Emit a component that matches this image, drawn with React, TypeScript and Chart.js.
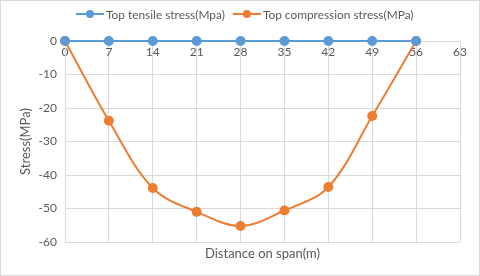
import React, { useEffect, useRef } from "react";
import { Chart, registerables } from "chart.js";

Chart.register(...registerables);

const distances = [0, 7, 14, 21, 28, 35, 42, 49, 56];
const tensileStress = [0, 0, 0, 0, 0, 0, 0, 0, 0];
const compressionStress = [0, -23.8, -43.9, -51, -55.2, -50.6, -43.6, -22.4, 0];
const seriesNames = ["Top tensile stress(Mpa)", "Top compression stress(MPa)"];
const seriesColors = ["#5B9BD5", "#ED7D31"];
const xAxisTitle = "Distance on span(m)";
const yAxisTitle = "Stress(MPa)";

const FONT = "Lato, 'Liberation Sans', sans-serif";
const TEXT = "#595959";
const GRID = "#D9D9D9";

const decorPlugin = {
  id: "decor",
  afterDraw(chart: any) {
    const ctx = chart.ctx as CanvasRenderingContext2D;
    const area = chart.chartArea;
    ctx.save();
    // border
    ctx.strokeStyle = GRID;
    ctx.lineWidth = 1;
    ctx.strokeRect(0.5, 0.5, chart.width - 1, chart.height - 1);
    // legend
    ctx.font = `12px ${FONT}`;
    const w0 = ctx.measureText(seriesNames[0]).width;
    const size = Math.max(10, Math.min(14, (12 * 119) / w0));
    ctx.font = `${size.toFixed(2)}px ${FONT}`;
    ctx.textBaseline = "middle";
    const markW = 28;
    const gapText = 2;
    const gapItem = 8;
    let x = 76;
    const y = 14;
    seriesNames.forEach((name, i) => {
      ctx.strokeStyle = seriesColors[i];
      ctx.lineWidth = 2;
      ctx.beginPath();
      ctx.moveTo(x, y);
      ctx.lineTo(x + markW, y);
      ctx.stroke();
      ctx.fillStyle = seriesColors[i];
      ctx.beginPath();
      ctx.arc(x + markW / 2, y, 4, 0, Math.PI * 2);
      ctx.fill();
      ctx.fillStyle = TEXT;
      ctx.textAlign = "left";
      ctx.fillText(name, x + markW + gapText, y + 1);
      x += markW + gapText + ctx.measureText(name).width + gapItem;
    });
    // x axis title
    ctx.font = `13px ${FONT}`;
    ctx.textAlign = "center";
    ctx.fillText(xAxisTitle, (area.left + area.right) / 2, 254);
    ctx.restore();
  },
};

export default function App() {
  const ref = useRef<HTMLCanvasElement | null>(null);
  useEffect(() => {
    document.body.style.margin = "0";
    const canvas = ref.current!;
    const chart = new Chart(canvas, {
      type: "line",
      data: {
        datasets: [
          {
            label: seriesNames[0],
            data: distances.map((d, i) => ({ x: d, y: tensileStress[i] })),
            borderColor: seriesColors[0],
            backgroundColor: seriesColors[0],
            borderWidth: 2,
            pointRadius: 4,
            pointHoverRadius: 4,
            tension: 0,
            clip: false,
          },
          {
            label: seriesNames[1],
            data: distances.map((d, i) => ({ x: d, y: compressionStress[i] })),
            borderColor: seriesColors[1],
            backgroundColor: seriesColors[1],
            borderWidth: 2,
            pointRadius: 4,
            pointHoverRadius: 4,
            tension: 0.35,
            clip: false,
          },
        ],
      },
      options: {
        responsive: false,
        animation: false,
        layout: { padding: { top: 41, bottom: 34, left: 0, right: 20 } },
        plugins: {
          legend: { display: false },
          tooltip: { enabled: false },
        },
        scales: {
          x: {
            type: "linear",
            position: { y: 0 } as any,
            min: 0,
            max: 63,
            grid: { color: GRID, drawTicks: false },
            border: { color: GRID },
            ticks: {
              stepSize: 7,
              padding: 4,
              color: TEXT,
              font: { family: FONT, size: 12 },
              maxRotation: 0,
            },
          },
          y: {
            type: "linear",
            min: -60,
            max: 0,
            grid: { color: GRID, drawTicks: false },
            border: { color: GRID },
            ticks: {
              stepSize: 10,
              padding: 8,
              color: TEXT,
              font: { family: FONT, size: 12 },
            },
            title: {
              display: true,
              text: yAxisTitle,
              color: TEXT,
              font: { family: FONT, size: 13 },
              padding: { top: 18, bottom: 0 },
            },
            afterFit(scale: any) {
              scale.width = 65;
            },
          },
        },
      },
      plugins: [decorPlugin],
    });
    return () => chart.destroy();
  }, []);
  return (
    <div style={{ position: "absolute", left: 0, top: 0, width: 480, height: 276, background: "#fff" }}>
      <canvas ref={ref} width={480} height={276} />
    </div>
  );
}
